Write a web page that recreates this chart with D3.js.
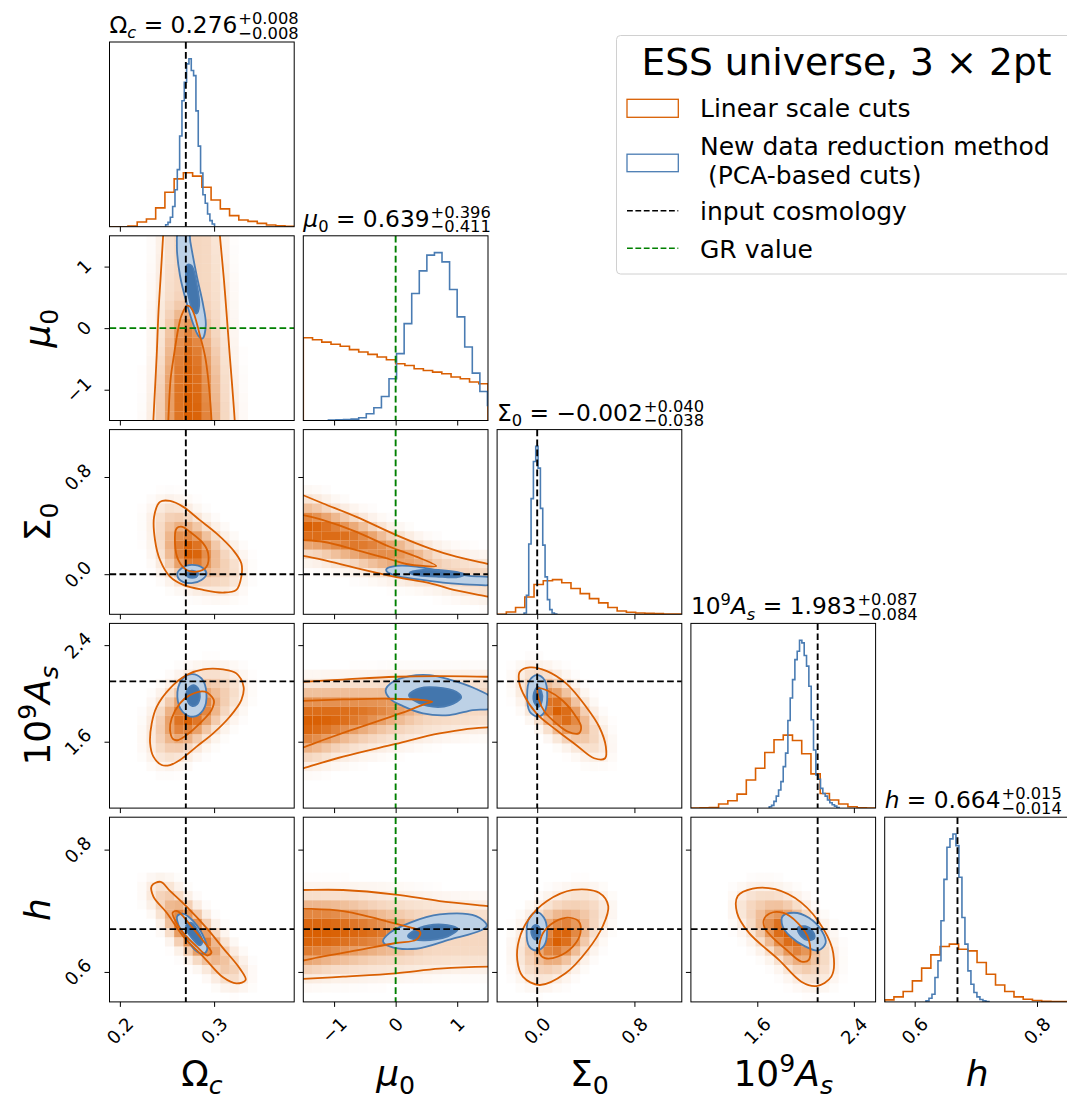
<!DOCTYPE html>
<html>
<head>
<meta charset="utf-8">
<script src="https://cdn.jsdelivr.net/npm/d3@7"></script>
<style>
  body { margin: 0; background: #fff; }
  svg { display: block; font-family: "DejaVu Sans", sans-serif; }
</style>
</head>
<body>
<svg id="fig" width="1067" height="1095"></svg>
<script>
// ---------------- parameters ----------------
const paramNames = ["Omega_c", "mu_0", "Sigma_0", "1e9A_s", "h"];
const paramRanges = [[0.189, 0.385], [-1.5, 1.5], [-0.33, 1.19], [1.05, 2.58], [0.551, 0.853]];
const paramTicks = [[0.2, 0.3], [-1, 0, 1], [0.0, 0.8], [1.6, 2.4], [0.6, 0.8]];
const tickLabels = [["0.2", "0.3"], ["−1", "0", "1"], ["0.0", "0.8"], ["1.6", "2.4"], ["0.6", "0.8"]];
const truthValues = [0.27, 0.0, 0.0, 2.1, 0.67];
const truthKind = ["input", "GR", "input", "input", "input"];
const medians = ["0.276", "0.639", "−0.002", "1.983", "0.664"];
const errPlus = ["+0.008", "+0.396", "+0.040", "+0.087", "+0.015"];
const errMinus = ["−0.008", "−0.411", "−0.038", "−0.084", "−0.014"];

// ---------------- 1D marginals ----------------
// Linear scale cuts: 20 bins spanning each parameter range
const histLinear = [
  [0, 0, 0.004, 0.028, 0.046, 0.112, 0.205, 0.285, 0.321, 0.301, 0.235, 0.159, 0.106, 0.066, 0.040, 0.032, 0.020, 0.010, 0.006, 0.002],
  [0.493, 0.481, 0.467, 0.454, 0.442, 0.422, 0.408, 0.394, 0.378, 0.362, 0.338, 0.328, 0.308, 0.298, 0.288, 0.278, 0.259, 0.249, 0.229, 0.219],
  [0, 0.014, 0.040, 0.103, 0.177, 0.199, 0.206, 0.187, 0.153, 0.123, 0.093, 0.068, 0.040, 0.020, 0.012, 0.008, 0.006, 0.004, 0.002, 0.002],
  [0, 0.002, 0.004, 0.024, 0.044, 0.083, 0.167, 0.236, 0.330, 0.405, 0.433, 0.401, 0.322, 0.203, 0.087, 0.048, 0.024, 0.008, 0.002, 0],
  [0.012, 0.030, 0.062, 0.125, 0.201, 0.280, 0.330, 0.344, 0.314, 0.304, 0.235, 0.165, 0.101, 0.062, 0.030, 0.016, 0.008, 0.004, 0.002, 0.002]
];
// PCA-based cuts: finer bins, first bin edge and bin width per parameter
const histPCAStart = [0.2486, -1.092, -0.108, 1.699, 0.6185];
const histPCAWidth = [0.00247, 0.123, 0.0192, 0.0193, 0.0049];
const histPCA = [
  [0.012, 0.026, 0.056, 0.12, 0.22, 0.34, 0.54, 0.75, 0.86, 0.97, 1.0, 0.93, 0.90, 0.69, 0.48, 0.32, 0.19, 0.14, 0.076, 0.036, 0.016],
  [0.002, 0.004, 0.006, 0.008, 0.016, 0.040, 0.076, 0.143, 0.249, 0.398, 0.577, 0.756, 0.891, 0.985, 1.0, 0.945, 0.780, 0.617, 0.438, 0.282, 0.173, 0.09],
  [0.008, 0.113, 0.417, 0.687, 0.907, 0.997, 0.868, 0.629, 0.411, 0.222, 0.087, 0.028, 0.008, 0.002],
  [0.008, 0.016, 0.04, 0.071, 0.107, 0.157, 0.246, 0.326, 0.52, 0.653, 0.762, 0.881, 0.93, 0.996, 0.98, 0.905, 0.842, 0.723, 0.524, 0.345, 0.197, 0.171, 0.117, 0.087, 0.071, 0.048, 0.032, 0.02, 0.012, 0.004],
  [0.006, 0.022, 0.046, 0.145, 0.245, 0.483, 0.73, 0.921, 0.971, 1.0, 0.931, 0.742, 0.503, 0.344, 0.185, 0.105, 0.056, 0.03, 0.014, 0.006, 0.002]
];

// ---------------- 2D marginals ----------------
// [row parameter, column parameter]; contour vertices are [column value, row value]
const pairs = [[1, 0], [2, 0], [2, 1], [3, 0], [3, 1], [3, 2], [4, 0], [4, 1], [4, 2], [4, 3]];

const linearOuter = [
  [[0.2352, -1.65], [0.2355, -1.508], [0.2373, -0.982], [0.2391, -0.44], [0.241, 0.267], [0.2432, 0.81], [0.246, 1.526], [0.2465, 1.65], [0.3055, 1.65], [0.306, 1.526], [0.3103, 0.81], [0.3131, 0.267], [0.3166, -0.44], [0.3194, -0.982], [0.3219, -1.508], [0.3222, -1.65]],
  [[0.2426, 0.595], [0.2532, 0.603], [0.2673, 0.554], [0.2849, 0.445], [0.3025, 0.336], [0.3201, 0.199], [0.3289, 0.09], [0.3289, -0.02], [0.3236, -0.129], [0.3095, -0.151], [0.2884, -0.129], [0.2673, -0.088], [0.2532, -0.02], [0.2426, 0.117], [0.2373, 0.281], [0.2363, 0.472]],
  [[-1.65, 0.68], [-1.502, 0.65], [-1.178, 0.582], [-0.637, 0.472], [0.011, 0.322], [0.551, 0.213], [0.984, 0.144], [1.496, 0.084], [1.65, 0.066], [1.65, -0.2], [1.496, -0.184], [0.984, -0.134], [0.551, -0.074], [0.011, -0.025], [-0.637, 0.049], [-1.178, 0.117], [-1.502, 0.15], [-1.65, 0.16]],
  [[0.2444, 1.407], [0.2356, 1.476], [0.2321, 1.587], [0.2338, 1.752], [0.2391, 1.889], [0.2532, 2.042], [0.2708, 2.152], [0.2884, 2.199], [0.3095, 2.199], [0.3236, 2.166], [0.3313, 2.055], [0.3289, 1.945], [0.3166, 1.807], [0.299, 1.669], [0.2814, 1.559], [0.2638, 1.449], [0.2532, 1.407]],
  [[-1.65, 2.092], [-1.502, 2.096], [-0.854, 2.115], [0, 2.138], [0.713, 2.143], [1.496, 2.138], [1.65, 2.137], [1.65, 1.71], [1.496, 1.719], [0.713, 1.669], [0, 1.581], [-0.854, 1.476], [-1.502, 1.38], [-1.65, 1.36]],
  [[-0.143, 2.179], [-0.061, 2.215], [0.075, 2.187], [0.238, 2.083], [0.402, 1.89], [0.51, 1.724], [0.565, 1.559], [0.559, 1.463], [0.469, 1.463], [0.32, 1.573], [0.157, 1.697], [-0.007, 1.835], [-0.116, 2.0], [-0.151, 2.11]],
  [[0.2338, 0.7407], [0.2433, 0.7473], [0.2532, 0.7324], [0.2708, 0.7067], [0.2919, 0.672], [0.3095, 0.639], [0.3271, 0.606], [0.3335, 0.5868], [0.3236, 0.5814], [0.3095, 0.5912], [0.2884, 0.6252], [0.2673, 0.6582], [0.2497, 0.6968], [0.2356, 0.7231]],
  [[-1.65, 0.734], [-1.502, 0.734], [-0.854, 0.734], [0, 0.7265], [0.713, 0.7159], [1.496, 0.7077], [1.65, 0.706], [1.65, 0.6085], [1.496, 0.6087], [0.713, 0.6054], [0, 0.5978], [-0.854, 0.5923], [-1.502, 0.5885], [-1.65, 0.588]],
  [[-0.164, 0.6198], [-0.149, 0.6528], [-0.072, 0.6857], [0.081, 0.7159], [0.295, 0.734], [0.509, 0.7295], [0.585, 0.7077], [0.539, 0.6747], [0.417, 0.6363], [0.233, 0.5978], [0.02, 0.5786], [-0.118, 0.5923]],
  [[1.438, 0.7242], [1.562, 0.7363], [1.748, 0.7352], [1.965, 0.7133], [2.151, 0.6692], [2.229, 0.6308], [2.213, 0.5923], [2.089, 0.5769], [1.965, 0.5841], [1.779, 0.6198], [1.531, 0.6638], [1.432, 0.6968]]
];
const linearInner = [
  [[0.2512, -1.65], [0.2514, -1.51], [0.2539, -0.82], [0.2574, -0.44], [0.262, -0.005], [0.2655, 0.21], [0.2715, 0.364], [0.2761, 0.32], [0.2849, -0.114], [0.2902, -0.44], [0.2937, -0.82], [0.2973, -1.51], [0.2976, -1.65]],
  [[0.2602, 0.377], [0.2665, 0.39], [0.2743, 0.349], [0.2884, 0.254], [0.2937, 0.172], [0.2919, 0.062], [0.2814, 0.021], [0.2708, 0.035], [0.262, 0.117], [0.2585, 0.254]],
  [[-1.65, 0.5], [-1.502, 0.486], [-1.178, 0.445], [-0.637, 0.349], [-0.097, 0.226], [0.335, 0.144], [0.659, 0.068], [0.443, 0.068], [0.173, 0.084], [-0.097, 0.123], [-0.637, 0.199], [-1.178, 0.267], [-1.502, 0.281], [-1.65, 0.284]],
  [[0.2567, 1.62], [0.2532, 1.697], [0.255, 1.794], [0.2638, 1.918], [0.2743, 1.986], [0.2902, 2.014], [0.2997, 1.945], [0.2972, 1.862], [0.2849, 1.752], [0.2708, 1.655], [0.262, 1.614]],
  [[-1.65, 1.936], [-1.502, 1.939], [-0.854, 1.95], [-0.097, 1.956], [0.443, 1.945], [0.594, 1.931], [0.47, 1.912], [0.227, 1.862], [0, 1.821], [-0.637, 1.711], [-1.178, 1.614], [-1.502, 1.553], [-1.65, 1.53]],
  [[0.007, 2.042], [0.088, 2.022], [0.211, 1.939], [0.32, 1.807], [0.361, 1.724], [0.342, 1.669], [0.252, 1.683], [0.157, 1.752], [0.061, 1.848], [0.015, 1.945]],
  [[0.256, 0.6968], [0.2609, 0.6994], [0.2743, 0.6775], [0.2902, 0.6473], [0.2972, 0.6318], [0.2926, 0.6269], [0.2814, 0.6417], [0.2673, 0.6638], [0.2585, 0.6846]],
  [[-1.65, 0.704], [-1.502, 0.7034], [-0.854, 0.6994], [-0.097, 0.6813], [0.4, 0.6648], [0.335, 0.6528], [0, 0.6473], [-0.637, 0.6351], [-1.178, 0.6253], [-1.502, 0.6187], [-1.65, 0.616]],
  [[0.02, 0.6308], [0.035, 0.6582], [0.111, 0.6775], [0.233, 0.6885], [0.34, 0.683], [0.356, 0.6638], [0.295, 0.6417], [0.172, 0.6252], [0.065, 0.6225]],
  [[1.655, 0.6857], [1.702, 0.6956], [1.81, 0.6968], [1.934, 0.6803], [2.027, 0.6528], [2.027, 0.6198], [1.965, 0.617], [1.841, 0.6363], [1.717, 0.6583], [1.661, 0.672]]
];
const pcaOuter = [
  [[0.2605, 1.35], [0.2625, 1.6], [0.2725, 1.62], [0.2748, 1.4], [0.2814, 0.863], [0.2884, 0.375], [0.2912, 0.049], [0.2877, -0.168], [0.2842, -0.141], [0.2796, -0.005], [0.2715, 0.375], [0.2637, 0.863]],
  [[0.2609, 0.002], [0.2655, 0.049], [0.2761, 0.076], [0.2884, 0.049], [0.2919, 0.002], [0.2866, -0.047], [0.2761, -0.074], [0.2644, -0.052]],
  [[-0.151, 0.041], [0.011, 0.068], [0.335, 0.063], [0.767, 0.021], [1.199, -0.014], [1.6, -0.035], [1.6, -0.08], [1.199, -0.085], [0.767, -0.069], [0.335, -0.041], [0.011, -0.014], [-0.14, 0.021]],
  [[0.2761, 2.16], [0.2866, 2.124], [0.2919, 2.0], [0.2884, 1.862], [0.2779, 1.807], [0.2666, 1.848], [0.261, 1.972], [0.2655, 2.11]],
  [[-0.162, 2.028], [-0.043, 2.096], [0.227, 2.143], [0.551, 2.151], [0.875, 2.115], [1.253, 2.049], [1.56, 1.96], [1.56, 1.88], [1.253, 1.862], [0.875, 1.821], [0.443, 1.835], [0.119, 1.895], [-0.097, 1.958]],
  [[-0.002, 2.152], [0.061, 2.11], [0.083, 1.986], [0.061, 1.848], [0.007, 1.807], [-0.061, 1.848], [-0.083, 1.986], [-0.061, 2.11]],
  [[0.2609, 0.6912], [0.2673, 0.695], [0.2779, 0.683], [0.2902, 0.6528], [0.2926, 0.6363], [0.2884, 0.6297], [0.2796, 0.6363], [0.2691, 0.6582], [0.262, 0.6775]],
  [[-0.205, 0.65], [-0.097, 0.6638], [0.227, 0.6803], [0.713, 0.694], [1.307, 0.6912], [1.48, 0.6758], [1.388, 0.6681], [0.875, 0.6528], [0.335, 0.6379], [-0.097, 0.6417]],
  [[-0.005, 0.6978], [0.056, 0.6885], [0.081, 0.6665], [0.056, 0.6429], [-0.005, 0.6351], [-0.066, 0.6418], [-0.087, 0.6665], [-0.064, 0.6885]],
  [[1.81, 0.6912], [1.903, 0.6968], [2.027, 0.6885], [2.136, 0.6665], [2.166, 0.6473], [2.104, 0.6351], [1.996, 0.6418], [1.872, 0.6583], [1.81, 0.6747]]
];
const pcaInner = [
  [[0.2715, 1.026], [0.2761, 1.015], [0.2814, 0.728], [0.2842, 0.375], [0.2814, 0.239], [0.2772, 0.293], [0.2726, 0.537], [0.2701, 0.81]],
  [[0.2708, 0.002], [0.2761, 0.03], [0.2831, 0.008], [0.2807, -0.025], [0.2729, -0.025]],
  [[0.227, 0.013], [0.443, 0.035], [0.821, 0.03], [1.118, 0.0], [0.984, -0.025], [0.659, -0.019], [0.335, -0.008]],
  [[0.2779, 2.069], [0.2831, 2.041], [0.2849, 1.972], [0.2821, 1.912], [0.2765, 1.896], [0.2715, 1.945], [0.2715, 2.028]],
  [[0.216, 1.986], [0.389, 2.042], [0.659, 2.05], [0.983, 2.014], [1.064, 1.967], [0.875, 1.903], [0.605, 1.89], [0.308, 1.939]],
  [[0.005, 2.055], [0.035, 2.014], [0.04, 1.945], [0.013, 1.89], [-0.02, 1.917], [-0.028, 2.0]],
  [[0.2708, 0.6775], [0.2761, 0.6803], [0.2831, 0.6665], [0.2877, 0.65], [0.2849, 0.6434], [0.2779, 0.6528], [0.2715, 0.6665]],
  [[0.2, 0.6582], [0.389, 0.672], [0.767, 0.6775], [1.01, 0.6704], [0.848, 0.6582], [0.443, 0.6516]],
  [[-0.011, 0.677], [0.02, 0.672], [0.02, 0.6582], [-0.011, 0.6528], [-0.042, 0.6593], [-0.042, 0.672]],
  [[1.934, 0.672], [1.996, 0.6747], [2.058, 0.6665], [2.073, 0.6555], [2.027, 0.6516], [1.959, 0.6593]]
];

// ---------------- legend ----------------
const legendTitle = "ESS universe, 3 × 2pt";
const legendLabels = ["Linear scale cuts", "New data reduction method", " (PCA-based cuts)", "input cosmology", "GR value"];

// ---------------- styling ----------------
const C_LIN = "#d95f02";
const C_PCA = "#4a7cb3";
const C_PCA_LIGHT = "#bdd1e6";
const C_PCA_DARK = "#4376ad";
const C_INPUT = "#000000";
const C_GR = "#008000";
const DASH = "6.7,3.3";

const LEFT = 109.5, TOP = 42, SIZE = 184.7, STEP = 193.8;
const svg = d3.select("#fig");

// math-style labels: [text, kind]
const mathLabels = [
  [["Ω", "n"], ["c", "subi"]],
  [["μ", "i"], ["0", "sub"]],
  [["Σ", "n"], ["0", "sub"]],
  [["10", "n"], ["9", "sup"], ["A", "i"], ["s", "subi"]],
  [["h", "i"]]
];
function appendMath(text, segs, F) {
  let shift = 0;
  segs.forEach(([s, kind]) => {
    let target = 0, size = F, italic = kind === "i";
    if (kind === "sub" || kind === "subi") { target = 0.22 * F; size = 0.7 * F; italic = kind === "subi"; }
    if (kind === "sup") { target = -0.4 * F; size = 0.7 * F; }
    const ts = text.append("tspan").text(s).attr("font-size", size).attr("dy", target - shift);
    if (italic) ts.attr("font-style", "italic");
    shift = target;
  });
  return shift;
}

const truthColor = k => truthKind[k] === "GR" ? C_GR : C_INPUT;

function xScaleFor(j) { return d3.scaleLinear().domain(paramRanges[j]).range([0, SIZE]); }
function yScaleFor(i) { return d3.scaleLinear().domain(paramRanges[i]).range([SIZE, 0]); }

function panel(i, j) {
  const g = svg.append("g").attr("transform", `translate(${LEFT + j * STEP},${TOP + i * STEP})`);
  const id = `clip-${i}-${j}`;
  g.append("clipPath").attr("id", id).append("rect").attr("width", SIZE).attr("height", SIZE);
  const body = g.append("g").attr("clip-path", `url(#${id})`);
  return { g, body };
}

// ---------------- 2D panels ----------------
const NB = 20;
function smooth(grid) {
  const n = grid.length, out = grid.map(r => r.slice());
  for (let y = 0; y < n; y++) for (let x = 0; x < n; x++) {
    let s = 0, w = 0;
    for (let dy = -1; dy <= 1; dy++) for (let dx = -1; dx <= 1; dx++) {
      const yy = Math.min(n - 1, Math.max(0, y + dy)), xx = Math.min(n - 1, Math.max(0, x + dx));
      const k = (dx ? 1 : 2) * (dy ? 1 : 2);
      s += grid[yy][xx] * k; w += k;
    }
    out[y][x] = s / w;
  }
  return out;
}

pairs.forEach(([i, j], k) => {
  const { g, body } = panel(i, j);
  const xs = xScaleFor(j), ys = yScaleFor(i);
  const [x0, x1] = paramRanges[j], [y0, y1] = paramRanges[i];
  const dx = (x1 - x0) / NB, dy = (y1 - y0) / NB;

  // binned density of the linear-scale-cut posterior, built from its credible regions
  let grid = [];
  for (let iy = 0; iy < NB; iy++) {
    const row = [];
    for (let ix = 0; ix < NB; ix++) {
      let fo = 0, fi = 0;
      for (let a = 0; a < 4; a++) for (let b = 0; b < 4; b++) {
        const p = [x0 + (ix + (a + 0.5) / 4) * dx, y0 + (iy + (b + 0.5) / 4) * dy];
        if (d3.polygonContains(linearOuter[k], p)) fo++;
        if (d3.polygonContains(linearInner[k], p)) fi++;
      }
      row.push(0.25 * fo / 16 + 0.6 * fi / 16);
    }
    grid.push(row);
  }
  grid = smooth(smooth(grid));
  const vmax = d3.max(grid.flat());
  const cells = [];
  grid.forEach((row, iy) => row.forEach((v, ix) => cells.push({ ix, iy, a: Math.pow(v / vmax, 1.15) })));
  body.selectAll("rect.cell").data(cells.filter(c => c.a > 0.01)).join("rect")
    .attr("class", "cell")
    .attr("x", c => xs(x0 + c.ix * dx))
    .attr("y", c => ys(y0 + (c.iy + 1) * dy))
    .attr("width", c => xs(x0 + (c.ix + 1) * dx) - xs(x0 + c.ix * dx))
    .attr("height", c => ys(y0 + c.iy * dy) - ys(y0 + (c.iy + 1) * dy))
    .attr("fill", C_LIN).attr("fill-opacity", c => c.a);

  const line = d3.line().x(d => xs(d[0])).y(d => ys(d[1])).curve(d3.curveCatmullRomClosed.alpha(0.5));
  body.append("path").attr("d", line(pcaOuter[k])).attr("fill", C_PCA_LIGHT).attr("stroke", "none");
  body.append("path").attr("d", line(pcaInner[k])).attr("fill", C_PCA_DARK).attr("stroke", "none");
  body.append("path").attr("d", line(pcaOuter[k])).attr("fill", "none").attr("stroke", C_PCA).attr("stroke-width", 1.8);
  body.append("path").attr("d", line(pcaInner[k])).attr("fill", "none").attr("stroke", C_PCA).attr("stroke-width", 1.8);
  body.append("path").attr("d", line(linearOuter[k])).attr("fill", "none").attr("stroke", C_LIN).attr("stroke-width", 1.8);
  body.append("path").attr("d", line(linearInner[k])).attr("fill", "none").attr("stroke", C_LIN).attr("stroke-width", 1.8);

  body.append("line").attr("x1", xs(truthValues[j])).attr("x2", xs(truthValues[j]))
    .attr("y1", 0).attr("y2", SIZE).attr("stroke", truthColor(j)).attr("stroke-width", 1.9).attr("stroke-dasharray", DASH);
  body.append("line").attr("y1", ys(truthValues[i])).attr("y2", ys(truthValues[i]))
    .attr("x1", 0).attr("x2", SIZE).attr("stroke", truthColor(i)).attr("stroke-width", 1.9).attr("stroke-dasharray", DASH);

  g.append("g").attr("transform", `translate(0,${SIZE})`)
    .call(d3.axisBottom(xs).tickValues(paramTicks[j]).tickSize(5).tickSizeOuter(0).tickFormat(""))
    .call(a => a.select(".domain").remove());
  g.append("g")
    .call(d3.axisLeft(ys).tickValues(paramTicks[i]).tickSize(5).tickSizeOuter(0).tickFormat(""))
    .call(a => a.select(".domain").remove());
  g.append("rect").attr("width", SIZE).attr("height", SIZE).attr("fill", "none").attr("stroke", "#000").attr("stroke-width", 1);
});

// ---------------- diagonal panels ----------------
function stepPoints(start, width, values) {
  const pts = [[start, 0]];
  values.forEach((v, b) => { pts.push([start + b * width, v]); pts.push([start + (b + 1) * width, v]); });
  pts.push([start + values.length * width, 0]);
  return pts;
}
for (let j = 0; j < 5; j++) {
  const { g, body } = panel(j, j);
  const xs = xScaleFor(j);
  const top = 1.1 * d3.max(histLinear[j].concat(histPCA[j]));
  const ys = d3.scaleLinear().domain([0, top]).range([SIZE, 0]);
  const line = d3.line().x(d => xs(d[0])).y(d => ys(d[1]));
  const [r0, r1] = paramRanges[j];
  body.append("path").attr("d", line(stepPoints(r0, (r1 - r0) / histLinear[j].length, histLinear[j])))
    .attr("fill", "none").attr("stroke", C_LIN).attr("stroke-width", 1.6);
  body.append("path").attr("d", line(stepPoints(histPCAStart[j], histPCAWidth[j], histPCA[j])))
    .attr("fill", "none").attr("stroke", C_PCA).attr("stroke-width", 1.6);
  body.append("line").attr("x1", xs(truthValues[j])).attr("x2", xs(truthValues[j]))
    .attr("y1", 0).attr("y2", SIZE).attr("stroke", truthColor(j)).attr("stroke-width", 1.9).attr("stroke-dasharray", DASH);
  g.append("g").attr("transform", `translate(0,${SIZE})`)
    .call(d3.axisBottom(xs).tickValues(paramTicks[j]).tickSize(5).tickSizeOuter(0).tickFormat(""))
    .call(a => a.select(".domain").remove());
  g.append("rect").attr("width", SIZE).attr("height", SIZE).attr("fill", "none").attr("stroke", "#000").attr("stroke-width", 1);

  // title: label = median with asymmetric errors
  const F = 23.3;
  const t = g.append("text").attr("x", 0).attr("y", -9).attr("font-size", F).attr("fill", "#000");
  const sh = appendMath(t, mathLabels[j], F);
  t.append("tspan").text(" = " + medians[j]).attr("font-size", F).attr("dy", -sh);
  const w = t.node().getComputedTextLength();
  g.append("text").attr("x", w + 1).attr("y", -18).attr("font-size", 0.7 * F).text(errPlus[j]);
  g.append("text").attr("x", w + 1).attr("y", -3.4).attr("font-size", 0.7 * F).text(errMinus[j]);
}

// ---------------- tick labels & axis labels ----------------
const TF = 18;
function rotatedLabel(txt) {
  const gg = svg.append("g");
  const t = gg.append("text").text(txt).attr("font-size", TF).attr("text-anchor", "middle").attr("dy", "0.365em");
  const w = t.node().getComputedTextLength();
  return { gg, w };
}
const bottomY = TOP + 4 * STEP + SIZE;
for (let j = 0; j < 5; j++) {
  const xs = xScaleFor(j);
  paramTicks[j].forEach((v, n) => {
    const { gg, w } = rotatedLabel(tickLabels[j][n]);
    const cy = bottomY + 14 + (w + 0.73 * TF) / (2 * Math.SQRT2);
    gg.attr("transform", `translate(${LEFT + j * STEP + xs(v)},${cy}) rotate(-45)`);
  });
  const lab = svg.append("text").attr("x", LEFT + j * STEP + SIZE / 2).attr("y", 1086)
    .attr("text-anchor", "middle").attr("font-size", 36);
  appendMath(lab, mathLabels[j], 36);
}
for (let i = 1; i < 5; i++) {
  const ys = yScaleFor(i);
  paramTicks[i].forEach((v, n) => {
    const { gg, w } = rotatedLabel(tickLabels[i][n]);
    const cx = LEFT - 17 - (w + 0.73 * TF) / (2 * Math.SQRT2);
    gg.attr("transform", `translate(${cx},${TOP + i * STEP + ys(v)}) rotate(-45)`);
  });
  const cy = TOP + i * STEP + SIZE / 2;
  const lab = svg.append("text").attr("transform", `translate(50,${cy}) rotate(-90)`)
    .attr("text-anchor", "middle").attr("font-size", 36);
  appendMath(lab, mathLabels[i], 36);
}

// ---------------- legend ----------------
const lg = svg.append("g");
lg.append("rect").attr("x", 616.5).attr("y", 35.5).attr("width", 470).attr("height", 238.5).attr("rx", 4)
  .attr("fill", "#fff").attr("fill-opacity", 0.9).attr("stroke", "#d0d0d0").attr("stroke-width", 1);
lg.append("text").attr("x", 846.5).attr("y", 75).attr("text-anchor", "middle").attr("font-size", 37.5).text(legendTitle);
lg.append("rect").attr("x", 627).attr("y", 99.3).attr("width", 51.3).attr("height", 18).attr("fill", "#fff")
  .attr("stroke", C_LIN).attr("stroke-width", 1.3);
lg.append("rect").attr("x", 627).attr("y", 154.2).attr("width", 51.3).attr("height", 17.5).attr("fill", "#fff")
  .attr("stroke", C_PCA).attr("stroke-width", 1.3);
lg.append("line").attr("x1", 627).attr("x2", 678.3).attr("y1", 210.7).attr("y2", 210.7)
  .attr("stroke", C_INPUT).attr("stroke-width", 1.6).attr("stroke-dasharray", "5.8,2.6");
lg.append("line").attr("x1", 627).attr("x2", 678.3).attr("y1", 248.3).attr("y2", 248.3)
  .attr("stroke", C_GR).attr("stroke-width", 1.6).attr("stroke-dasharray", "5.8,2.6");
const legendY = [116.7, 155.3, 183.6, 220.3, 258.3];
legendLabels.forEach((s, n) => {
  lg.append("text").attr("x", 700).attr("y", legendY[n]).attr("font-size", 25).attr("xml:space", "preserve")
    .style("white-space", "pre").text(s);
});
</script>
</body>
</html>
